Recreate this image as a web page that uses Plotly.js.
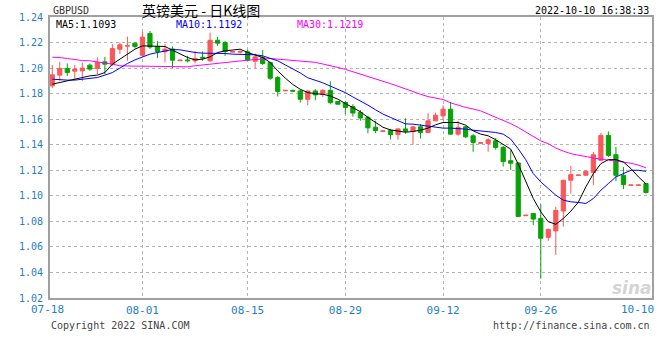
<!DOCTYPE html>
<html><head><meta charset="utf-8">
<script src="https://cdn.plot.ly/plotly-3.0.1.min.js"></script>
<style>html,body{margin:0;padding:0;background:#fff;}#chart{width:660px;height:360px;}</style>
</head><body><div id="chart"></div>
<script>
const openP = [1.1861,1.1945,1.1997,1.1976,1.1978,1.2023,1.1997,1.2049,1.2031,1.2148,1.2172,1.2195,1.2100,1.2270,1.2170,1.2128,1.2150,1.2058,1.2064,1.2057,1.2085,1.2057,1.2218,1.2200,1.2125,1.2125,1.2127,1.2054,1.2083,1.2044,1.1926,1.1822,1.1826,1.1821,1.1756,1.1821,1.1795,1.1826,1.1738,1.1730,1.1699,1.1653,1.1614,1.1537,1.1504,1.1511,1.1480,1.1524,1.1504,1.1540,1.1496,1.1587,1.1626,1.1678,1.1483,1.1540,1.1470,1.1411,1.1410,1.1431,1.1379,1.1275,1.1257,1.0844,1.0862,1.0823,1.0675,1.0725,1.0881,1.1122,1.1159,1.1161,1.1182,1.1278,1.1473,1.1322,1.1161,1.1081,1.1081,1.1096];
const highP = [1.2025,1.2049,1.2036,1.2025,1.2044,1.2036,1.2083,1.2088,1.2187,1.2200,1.2247,1.2200,1.2285,1.2290,1.2210,1.2190,1.2170,1.2064,1.2096,1.2135,1.2130,1.2278,1.2244,1.2213,1.2133,1.2140,1.2143,1.2114,1.2143,1.2049,1.1939,1.1828,1.1830,1.1834,1.1826,1.1834,1.1834,1.1898,1.1740,1.1743,1.1717,1.1671,1.1627,1.1588,1.1510,1.1524,1.1527,1.1607,1.1542,1.1561,1.1647,1.1652,1.1709,1.1735,1.1587,1.1548,1.1483,1.1418,1.1452,1.1452,1.1392,1.1358,1.1262,1.0850,1.0862,1.0933,1.0740,1.0914,1.1125,1.1234,1.1165,1.1195,1.1343,1.1493,1.1504,1.1382,1.1226,1.1088,1.1088,1.1098];
const lowP = [1.1845,1.1900,1.1939,1.1908,1.1900,1.1978,1.1952,1.1952,1.2018,1.2109,1.2057,1.2153,1.2090,1.2150,1.2080,1.2045,1.2000,1.2055,1.2044,1.2036,1.2057,1.2049,1.2174,1.2096,1.2122,1.2114,1.2057,1.2000,1.2025,1.1908,1.1778,1.1820,1.1815,1.1730,1.1710,1.1748,1.1774,1.1717,1.1715,1.1640,1.1619,1.1588,1.1490,1.1490,1.1502,1.1441,1.1439,1.1485,1.1400,1.1449,1.1494,1.1585,1.1592,1.1481,1.1470,1.1452,1.1345,1.1408,1.1345,1.1361,1.1229,1.1203,1.0834,1.0842,1.0772,1.0351,1.0647,1.0538,1.0759,1.1018,1.1157,1.1158,1.1083,1.1270,1.1304,1.1114,1.1052,1.1079,1.1079,1.1018];
const closeP = [1.1947,1.1997,1.1965,1.1992,1.2000,1.1992,1.2044,1.2031,1.2153,1.2182,1.2175,1.2169,1.2242,1.2165,1.2130,1.2148,1.2062,1.2062,1.2058,1.2075,1.2080,1.2218,1.2195,1.2130,1.2130,1.2130,1.2062,1.2088,1.2036,1.1921,1.1817,1.1826,1.1820,1.1756,1.1821,1.1790,1.1826,1.1730,1.1717,1.1692,1.1648,1.1609,1.1532,1.1511,1.1508,1.1480,1.1524,1.1506,1.1540,1.1496,1.1587,1.1631,1.1678,1.1483,1.1535,1.1462,1.1418,1.1415,1.1439,1.1379,1.1268,1.1255,1.0839,1.0848,1.0818,1.0668,1.0738,1.0886,1.1122,1.1166,1.1163,1.1192,1.1322,1.1473,1.1317,1.1161,1.1088,1.1085,1.1085,1.1026];
const ma5 = [1.1874,1.1887,1.1900,1.1913,1.1926,1.1939,1.1945,1.1965,1.2031,1.2070,1.2109,1.2148,1.2174,1.2174,1.2174,1.2169,1.2140,1.2109,1.2083,1.2064,1.2070,1.2088,1.2122,1.2135,1.2140,1.2148,1.2122,1.2101,1.2083,1.2044,1.1978,1.1922,1.1872,1.1834,1.1808,1.1800,1.1795,1.1782,1.1756,1.1723,1.1692,1.1658,1.1614,1.1576,1.1537,1.1516,1.1506,1.1498,1.1504,1.1514,1.1530,1.1556,1.1574,1.1574,1.1574,1.1553,1.1509,1.1483,1.1470,1.1439,1.1405,1.1366,1.1249,1.1120,1.0979,1.0875,1.0797,1.0777,1.0823,1.0880,1.0950,1.1070,1.1174,1.1252,1.1283,1.1283,1.1265,1.1213,1.1148,1.1093];
const ma10 = [1.1913,1.1908,1.1906,1.1906,1.1913,1.1921,1.1926,1.1945,1.1965,1.2000,1.2036,1.2064,1.2088,1.2109,1.2122,1.2135,1.2145,1.2143,1.2130,1.2122,1.2117,1.2117,1.2117,1.2114,1.2109,1.2109,1.2104,1.2104,1.2096,1.2078,1.2057,1.2025,1.1995,1.1962,1.1924,1.1906,1.1885,1.1859,1.1834,1.1808,1.1774,1.1743,1.1710,1.1674,1.1640,1.1614,1.1588,1.1563,1.1561,1.1553,1.1543,1.1535,1.1530,1.1530,1.1527,1.1522,1.1514,1.1509,1.1504,1.1496,1.1483,1.1444,1.1368,1.1283,1.1174,1.1109,1.1057,1.1005,1.0966,1.0953,1.0948,1.0940,1.0979,1.1044,1.1096,1.1148,1.1174,1.1200,1.1200,1.1192];
const ma30 = [1.2085,1.2083,1.2075,1.2067,1.2059,1.2057,1.2049,1.2044,1.2031,1.2018,1.2015,1.2015,1.2015,1.2015,1.2015,1.2015,1.2015,1.2010,1.2010,1.2018,1.2025,1.2031,1.2036,1.2044,1.2049,1.2057,1.2062,1.2067,1.2072,1.2075,1.2070,1.2064,1.2058,1.2054,1.2050,1.2045,1.2032,1.2021,1.2005,1.1990,1.1972,1.1955,1.1938,1.1918,1.1898,1.1878,1.1858,1.1835,1.1815,1.1795,1.1777,1.1765,1.1754,1.1728,1.1708,1.1692,1.1680,1.1665,1.1640,1.1615,1.1595,1.1565,1.1535,1.1500,1.1460,1.1430,1.1408,1.1374,1.1350,1.1330,1.1318,1.1306,1.1298,1.1286,1.1280,1.1272,1.1265,1.1255,1.1240,1.1219];
const tickIdx = [0,12,26,39,52,65,79];
const tickText = ['07-18','08-01','08-15','08-29','09-12','09-26','10-10'];
const symbol = 'GBPUSD';
const titleText = '英镑美元 - 日K线图';
const stamp = '2022-10-10 16:38:33';

const idx = closeP.map((_, i) => i);
const RED = '#fa5858', GREEN = '#07a307';
const MONO = 'DejaVu Sans Mono, monospace';
const last = a => a[a.length - 1].toFixed(4);

const traces = [
  {type:'candlestick', x: idx, open: openP, high: highP, low: lowP, close: closeP,
   increasing:{line:{color:RED,width:1}, fillcolor:RED},
   decreasing:{line:{color:GREEN,width:1}, fillcolor:GREEN},
   whiskerwidth:0, hoverinfo:'skip', showlegend:false},
  {type:'scatter', mode:'lines', x: idx, y: ma30, line:{color:'#ff00ff', width:1}, hoverinfo:'skip', showlegend:false},
  {type:'scatter', mode:'lines', x: idx, y: ma10, line:{color:'#0000ff', width:1}, hoverinfo:'skip', showlegend:false},
  {type:'scatter', mode:'lines', x: idx, y: ma5, line:{color:'#000000', width:1}, hoverinfo:'skip', showlegend:false}
];

const AXC = '#1f7fc6';
const ann = (text, x, y, opts) => Object.assign({text, x, y, xref:'paper', yref:'paper', showarrow:false, yanchor:'middle', borderpad:0}, opts);

const layout = {
  width:660, height:360,
  margin:{l:50, r:8, t:17, b:62},
  paper_bgcolor:'#fff', plot_bgcolor:'#fff',
  boxgap:0.2,
  showlegend:false,
  xaxis:{range:[-0.3, 79.8], rangeslider:{visible:false}, tickmode:'array',
    tickvals: tickIdx.slice(1, -1), ticktext: tickText.slice(1, -1),
    showgrid:true, gridcolor:'#b4b4b4', griddash:'dot', gridwidth:1,
    showline:true, mirror:true, linecolor:'#a0a0a0', linewidth:2, zeroline:false,
    ticks:'', ticklabelstandoff:1, tickfont:{family:MONO, size:11, color:AXC}, fixedrange:true},
  yaxis:{range:[1.02, 1.24], tick0:1.02, dtick:0.02, tickformat:'.2f',
    showgrid:true, gridcolor:'#b4b4b4', griddash:'dot', gridwidth:1,
    showline:true, mirror:true, linecolor:'#a0a0a0', linewidth:2, zeroline:false,
    ticks:'', ticklabelstandoff:3, tickfont:{family:MONO, size:10, color:AXC}, fixedrange:true},
  annotations:[
    ann(symbol, 0.0033, 1.0214, {xanchor:'left', font:{family:MONO, size:10, color:'#333'}}),
    ann(titleText, 0.2508, 1.0249, {xanchor:'center', font:{family:'Noto Sans CJK SC', size:14, color:'#000'}}),
    ann(stamp, 0.9967, 1.0214, {xanchor:'right', font:{family:MONO, size:10, color:'#000'}}),
    ann('MA5:' + last(ma5), 0.0083, 0.975, {xanchor:'left', font:{family:MONO, size:10, color:'#000'}}),
    ann('MA10:' + last(ma10), 0.2076, 0.975, {xanchor:'left', font:{family:MONO, size:10, color:'#0000ff'}}),
    ann('MA30:' + last(ma30), 0.4086, 0.975, {xanchor:'left', font:{family:MONO, size:10, color:'#ff00ff'}}),
    ann(tickText[0], -0.0042, -0.040, {xanchor:'center', font:{family:MONO, size:11, color:AXC}}),
    ann(tickText[tickText.length-1], 0.976, -0.040, {xanchor:'center', font:{family:MONO, size:11, color:AXC}}),
    ann('Copyright 2022 SINA.COM', 0.0, -0.0975, {xanchor:'left', font:{family:MONO, size:10, color:'#444'}}),
    ann('http://finance.sina.com.cn', 0.9983, -0.0975, {xanchor:'right', font:{family:MONO, size:10, color:'#444'}}),
    ann('<b><i>sina</i></b>', 0.966, 0.036, {xanchor:'center', font:{family:'DejaVu Sans', size:17, color:'#d4d4d4'}})
  ]
};

Plotly.newPlot('chart', traces, layout, {displayModeBar:false, staticPlot:true});
</script>
</body></html>
